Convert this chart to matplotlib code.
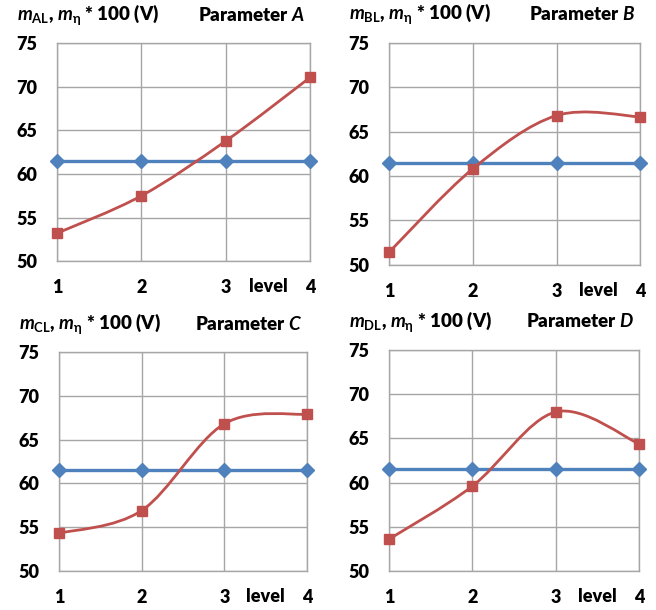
import numpy as np
import matplotlib
matplotlib.use("Agg")
import matplotlib.pyplot as plt
from matplotlib.path import Path
from matplotlib.patches import PathPatch

plt.rcParams['font.family'] = ['Lato', 'DejaVu Sans']
plt.rcParams['mathtext.fontset'] = 'custom'
plt.rcParams['mathtext.rm'] = 'Lato:bold'
plt.rcParams['mathtext.it'] = 'Lato:italic:bold'
plt.rcParams['mathtext.bf'] = 'Lato:bold'
plt.rcParams['mathtext.fallback'] = 'stixsans'

levels = [1, 2, 3, 4]
m_eta = [61.5, 61.5, 61.5, 61.5]
m_AL = [53.2, 57.5, 63.8, 71.1]
m_BL = [51.4, 60.8, 66.8, 66.65]
m_CL = [54.3, 56.9, 66.8, 67.9]
m_DL = [53.6, 59.6, 68.0, 64.4]

panels = [
    ("A", m_AL, [0.087, 0.572, 0.386, 0.357]),
    ("B", m_BL, [0.593, 0.566, 0.383, 0.364]),
    ("C", m_CL, [0.090, 0.064, 0.378, 0.359]),
    ("D", m_DL, [0.593, 0.064, 0.381, 0.362]),
]

blue = "#4F81BD"
red = "#C0504D"
grid_c = "#A6A6A6"


def smooth_path(x, y):
    # Excel-like smoothed line: cubic Bezier through the points
    pts = np.column_stack([x, y]).astype(float)
    n = len(pts)
    verts = [pts[0]]
    codes = [Path.MOVETO]
    for i in range(n - 1):
        p0 = pts[i - 1] if i > 0 else pts[i]
        p1 = pts[i]
        p2 = pts[i + 1]
        p3 = pts[i + 2] if i + 2 < n else pts[i + 1]
        c1 = p1 + (p2 - p0) / 6
        c2 = p2 - (p3 - p1) / 6
        verts += [c1, c2, p2]
        codes += [Path.CURVE4] * 3
    return Path(verts, codes)


fig = plt.figure(figsize=(6.56, 6.10), dpi=100)

for name, vals, rect in panels:
    ax = fig.add_axes(rect)
    ax.set_xlim(1, 4)
    ax.set_ylim(50, 75)
    ax.set_xticks(levels)
    ax.set_yticks([50, 55, 60, 65, 70, 75])
    ax.grid(True, color=grid_c, lw=1.0)
    ax.set_axisbelow(True)
    for s in ax.spines.values():
        s.set_color(grid_c)
        s.set_linewidth(1.0)
    ax.tick_params(length=0, labelsize=13, pad=14)
    ax.tick_params(axis='x', pad=13)
    for lab in ax.get_xticklabels() + ax.get_yticklabels():
        lab.set_fontweight('heavy')
    ax.plot(levels, m_eta, color=blue, lw=2.4, marker='D', ms=7,
            clip_on=False, zorder=3)
    ax.add_patch(PathPatch(smooth_path(levels, vals), fc='none', ec=red,
                           lw=2.0, zorder=4, clip_on=False))
    ax.plot(levels, vals, ls='none', color=red, marker='s', ms=7.5,
            clip_on=False, zorder=5)
    ax.text(3.5, -0.115, "level", transform=ax.get_xaxis_transform(),
            ha='center', va='center', fontsize=13, fontweight='heavy')
    ax.text(-0.16, 1.13, r"$m_{\mathrm{%sL}}$, $m_{\mathrm{\eta}}$ * 100 (V)" % name,
            transform=ax.transAxes, ha='left', va='center',
            fontsize=13.5, fontweight='heavy')
    ax.text(0.98, 1.13, "Parameter $%s$" % name, transform=ax.transAxes,
            ha='right', va='center', fontsize=13.5, fontweight='heavy')

fig.savefig("out.png", dpi=100)
